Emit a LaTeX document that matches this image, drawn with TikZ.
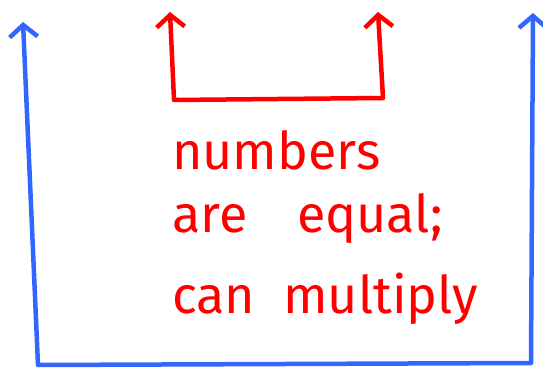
\documentclass[tikz,border=0pt]{standalone}
\usepackage{fontspec}
\setmainfont{Fira Sans}
\usetikzlibrary{arrows.meta}
\definecolor{penblue}{RGB}{51,102,255}
\definecolor{penred}{RGB}{255,0,0}
\tikzset{
  pen/.style={line width=4.5pt, line cap=round, line join=round},
  bluepen/.style={pen, draw=penblue},
  redpen/.style={pen, draw=penred},
  barbs/.style={{Straight Barb[length=12pt,width=28pt]}-{Straight Barb[length=12pt,width=28pt]}},
  note/.style={anchor=base west, inner sep=0pt, text=penred,
    font=\fontsize{52}{52}\selectfont}
}

\begin{document}
\begin{tikzpicture}[x=1pt, y=-1pt]
  \useasboundingbox (0,0) rectangle (543,371);

  % outer (blue) bracket
  \coordinate (outerTL) at (23,22);
  \coordinate (outerBL) at (38,365);
  \coordinate (outerBR) at (531,363);
  \coordinate (outerTR) at (533,13);
  \draw[bluepen, barbs] (outerTL) -- (outerBL) -- (outerBR) -- (outerTR);

  % inner (red) bracket
  \coordinate (innerTL) at (170,12);
  \coordinate (innerBL) at (174,100);
  \coordinate (innerBR) at (383,98);
  \coordinate (innerTR) at (378,12);
  \draw[redpen, barbs] (innerTL) -- (innerBL) -- (innerBR) -- (innerTR);

  % label
  \node[note] (numbers) at (172,170) {numbers};
  \node[note] (are) at (172,233) {are};
  \node[note] (equal) at (297,233) {equal;};
  \node[note] (can) at (172,313) {can};
  \node[note] (multiply) at (283,313) {multiply};
\end{tikzpicture}
\end{document}
